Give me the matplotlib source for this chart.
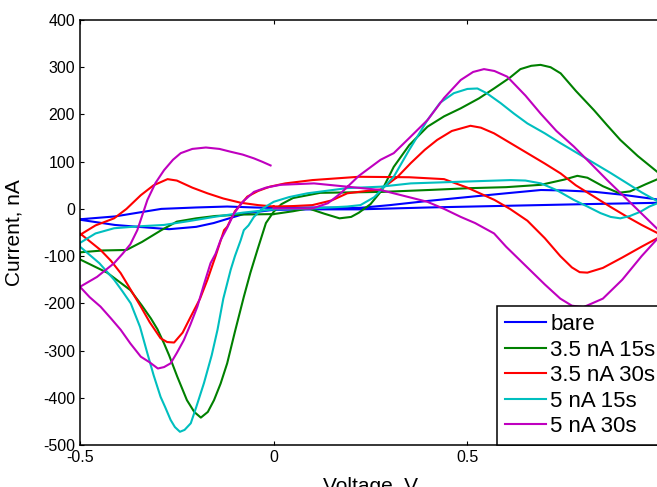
import matplotlib
matplotlib.use("Agg")
import matplotlib.pyplot as plt

plt.rcParams["font.family"] = ["Liberation Sans", "DejaVu Sans"]
plt.rcParams["axes.unicode_minus"] = False

# Cyclic voltammograms: each path starts at 0 V, sweeps to +1.0 V,
# back to -0.5 V and forward again to 0 V.
bare_v = [0.0, 0.1, 0.22, 0.3, 0.4, 0.5, 0.6, 0.69, 0.75, 0.83, 0.9, 1.0,
          1.0, 0.8, 0.57, 0.4, 0.22, 0.1, 0.0, -0.07, -0.155, -0.2, -0.27, -0.35, -0.41, -0.5,
          -0.5, -0.41, -0.35, -0.29, -0.2, -0.12, -0.05, 0.0]
bare_i = [2, 3, 2, 8, 17, 25, 33, 40, 39, 36, 30, 19,
          13, 10, 6, 3, -1, -1, -2, -9, -30, -38, -43, -38, -34, -23,
          -22, -16, -8, 0, 3, 5, 3, 2]

g15_v = [0.0, 0.05, 0.09, 0.13, 0.17, 0.2, 0.22, 0.25, 0.28, 0.31, 0.35, 0.397, 0.44, 0.483,
         0.53, 0.569, 0.61, 0.637, 0.665, 0.689, 0.715, 0.741, 0.78, 0.827, 0.86, 0.895, 0.94, 1.0,
         1.0, 0.96, 0.92, 0.89, 0.85, 0.81, 0.784, 0.75, 0.69, 0.6, 0.51, 0.4, 0.28, 0.2, 0.12,
         0.05, 0.02, 0.0, -0.02, -0.042, -0.06, -0.077, -0.1, -0.12, -0.137, -0.154, -0.17, -0.188,
         -0.205, -0.224, -0.249, -0.27, -0.283, -0.3, -0.317, -0.34, -0.37, -0.43, -0.5,
         -0.5, -0.44, -0.38, -0.34, -0.29, -0.25, -0.2, -0.15, -0.08, 0.0]
g15_i = [-11, -5, 1, -10, -20, -17, -8, 10, 40, 89, 135, 174, 196, 213,
         234, 255, 278, 296, 303, 305, 300, 287, 250, 209, 178, 146, 112, 72,
         66, 52, 37, 34, 48, 66, 70, 62, 51, 46, 44, 40, 36, 35, 34,
         23, 10, -6, -30, -87, -135, -186, -260, -327, -370, -405, -430, -442,
         -430, -405, -355, -310, -285, -255, -232, -205, -172, -135, -107,
         -92, -88, -87, -70, -45, -27, -20, -15, -12, -11]

r30_v = [0.0, 0.05, 0.1, 0.15, 0.19, 0.24, 0.276, 0.32, 0.354, 0.39, 0.422, 0.46, 0.508, 0.535,
         0.569, 0.61, 0.655, 0.7, 0.741, 0.78, 0.827, 0.87, 0.913, 0.95, 1.0,
         1.0, 0.95, 0.9, 0.85, 0.81, 0.79, 0.77, 0.74, 0.7, 0.655, 0.61, 0.57, 0.5, 0.44, 0.35,
         0.22, 0.1, 0.03, -0.01, -0.04, -0.068, -0.1, -0.12, -0.128, -0.15, -0.171, -0.19,
         -0.214, -0.235, -0.257, -0.275, -0.292, -0.32, -0.343, -0.37, -0.395, -0.42, -0.447, -0.5,
         -0.5, -0.46, -0.412, -0.38, -0.343, -0.31, -0.274, -0.25, -0.21, -0.171, -0.13, -0.085,
         -0.04, 0.0]
r30_i = [5, 6, 8, 18, 33, 38, 41, 68, 97, 125, 146, 165, 176, 172,
         160, 140, 118, 96, 75, 50, 26, 4, -17, -34, -55,
         -58, -80, -103, -125, -135, -134, -124, -100, -62, -25, 0, 19, 45, 63, 67,
         68, 61, 54, 47, 38, 26, -5, -38, -45, -100, -150, -190,
         -228, -262, -283, -282, -274, -240, -207, -170, -136, -110, -87, -52,
         -55, -35, -20, 0, 29, 50, 63, 60, 45, 33, 22, 13,
         8, 5]

c15_v = [0.0, 0.1, 0.19, 0.224, 0.26, 0.31, 0.35, 0.397, 0.43, 0.465, 0.5, 0.526, 0.55, 0.586,
         0.62, 0.655, 0.7, 0.741, 0.78, 0.827, 0.87, 0.913, 0.95, 1.0,
         1.0, 0.97, 0.947, 0.92, 0.895, 0.87, 0.844, 0.81, 0.775, 0.73, 0.69, 0.65, 0.612, 0.5,
         0.354, 0.276, 0.19, 0.087, 0.04, 0.0, -0.03, -0.051, -0.065, -0.077, -0.085, -0.1,
         -0.111, -0.13, -0.145, -0.16, -0.18, -0.2, -0.214, -0.23, -0.242, -0.255, -0.266,
         -0.28, -0.292, -0.31, -0.326, -0.345, -0.369, -0.39, -0.412, -0.45, -0.5,
         -0.5, -0.46, -0.412, -0.35, -0.283, -0.22, -0.154, -0.08, 0.0]
c15_i = [-1, 1, 5, 8, 25, 68, 125, 188, 225, 245, 254, 255, 245, 224,
         202, 181, 160, 139, 120, 97, 76, 54, 35, 12,
         15, 5, -6, -15, -20, -17, -9, 5, 19, 40, 54, 60, 61, 58,
         54, 47, 44, 33, 25, 15, 0, -17, -35, -45, -66, -100,
         -129, -190, -256, -310, -369, -420, -454, -468, -472, -462, -447,
         -420, -398, -352, -306, -250, -200, -175, -150, -115, -80,
         -72, -52, -41, -37, -34, -26, -17, -8, -1]

m30_v = [0.0, 0.05, 0.1, 0.14, 0.173, 0.22, 0.276, 0.31, 0.35, 0.397, 0.44, 0.483, 0.515, 0.543,
         0.57, 0.603, 0.65, 0.689, 0.73, 0.775, 0.82, 0.861, 0.9, 0.95, 1.0,
         1.0, 0.95, 0.9, 0.85, 0.8, 0.77, 0.74, 0.7, 0.65, 0.6, 0.569, 0.52, 0.483, 0.44, 0.397,
         0.31, 0.276, 0.19, 0.104, 0.018, -0.02, -0.051, -0.08, -0.102, -0.12, -0.137, -0.15,
         -0.163, -0.18, -0.197, -0.215, -0.232, -0.25, -0.266, -0.283, -0.299, -0.32, -0.343,
         -0.37, -0.395, -0.42, -0.447, -0.475, -0.5,
         -0.5, -0.456, -0.412, -0.39, -0.37, -0.352, -0.326, -0.305, -0.283, -0.26, -0.24,
         -0.21, -0.175, -0.14, -0.111, -0.08, -0.051, -0.03, -0.008]
m30_i = [1, 1, 1, 12, 33, 70, 104, 118, 150, 188, 235, 273, 290, 296,
         292, 280, 240, 202, 165, 132, 95, 61, 30, -10, -50,
         -55, -100, -150, -190, -208, -205, -190, -160, -120, -80, -52, -30, -17, 0, 15,
         33, 40, 47, 54, 51, 45, 36, 15, -9, -40, -66, -95,
         -115, -160, -207, -245, -278, -305, -327, -335, -338, -325, -313,
         -285, -256, -232, -207, -187, -165,
         -165, -144, -115, -95, -75, -45, 19, 55, 82, 104, 118,
         127, 130, 127, 121, 115, 107, 100, 92]

labels = ["bare", "3.5 nA 15s", "3.5 nA 30s", "5 nA 15s", "5 nA 30s"]
colors = ["#0000ff", "#008000", "#ff0000", "#00bfbf", "#bf00bf"]
series = [(bare_v, bare_i), (g15_v, g15_i), (r30_v, r30_i), (c15_v, c15_i), (m30_v, m30_i)]

x_ticks = [-0.5, 0, 0.5, 1]
x_ticklabels = ["-0.5", "0", "0.5", "1"]
y_ticks = [-500, -400, -300, -200, -100, 0, 100, 200, 300, 400]

W, H = 657, 487
fig = plt.figure(figsize=(W / 100, H / 100), dpi=100)
ax = fig.add_axes([80 / W, 42 / H, 581 / W, 425 / H])

for (v, i), lab, col in zip(series, labels, colors):
    ax.plot(v, i, color=col, lw=1.5, label=lab)

ax.set_xlim(-0.5, 1.0)
ax.set_ylim(-500, 400)
ax.set_xticks(x_ticks)
ax.set_xticklabels(x_ticklabels)
ax.set_yticks(y_ticks)
ax.tick_params(direction="in", length=3, width=0.8, top=True, right=True,
               labelsize=11.5, pad=3.5, colors="black")
for s in ax.spines.values():
    s.set_linewidth(1.1)
    s.set_color("black")

ax.set_xlabel("Voltage, V", fontsize=15)
ax.set_ylabel("Current, nA", fontsize=15)
ax.xaxis.set_label_coords(0.5, -0.075)
ax.yaxis.set_label_coords(-0.098, 0.5)

leg = ax.legend(loc="lower left", bbox_to_anchor=((497 - 80) / 581, 0.0),
                borderaxespad=0, fontsize=16, frameon=True, fancybox=False,
                framealpha=1, edgecolor="black", handlelength=1.85,
                handletextpad=0.18, borderpad=0.36, labelspacing=0.2)
leg.get_frame().set_linewidth(1.1)

fig.savefig("out.png", dpi=100)
